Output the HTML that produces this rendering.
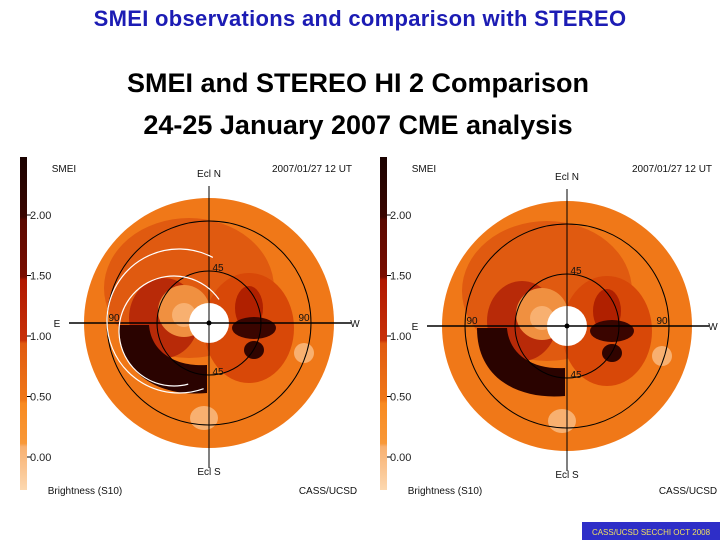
<!DOCTYPE html>
<html><head><meta charset="utf-8"><style>
body{margin:0;width:720px;height:540px;background:#fff;overflow:hidden;font-family:"Liberation Sans",sans-serif}
.t{position:absolute;left:0;width:720px;text-align:center;font-weight:bold;color:#000}
</style></head><body>
<div class="t" style="top:6px;font-size:22px;letter-spacing:0.3px;color:#1c1cb4">SMEI observations and comparison with STEREO</div>
<div class="t" style="top:68px;font-size:27px;left:-2px">SMEI and STEREO HI 2 Comparison</div>
<div class="t" style="top:110px;font-size:27px;left:-2px">24-25 January 2007 CME analysis</div>
<svg width="720" height="540" style="position:absolute;left:0;top:0" font-family="Liberation Sans, sans-serif">
<defs>
<linearGradient id="cb" x1="0" y1="0" x2="0" y2="1">
<stop offset="0" stop-color="#1a0200"/><stop offset="0.18" stop-color="#3a0500"/>
<stop offset="0.19" stop-color="#5a0800"/><stop offset="0.36" stop-color="#7a0c00"/>
<stop offset="0.37" stop-color="#b01800"/><stop offset="0.55" stop-color="#c83008"/>
<stop offset="0.56" stop-color="#e05a10"/><stop offset="0.73" stop-color="#f07818"/>
<stop offset="0.74" stop-color="#f88a20"/><stop offset="0.86" stop-color="#f89838"/>
<stop offset="0.87" stop-color="#f8b070"/><stop offset="1" stop-color="#fcd8b0"/>
</linearGradient>
</defs>
<g id="panels"></g>
<rect x="582" y="522" width="138" height="18" fill="#2e2ec8"/>
<text x="651" y="535" font-size="8" fill="#f0e060" text-anchor="middle">CASS/UCSD SECCHI OCT 2008</text>
</svg>
<script>
const ticks=["2.00","1.50","1.00","0.50","0.00"];
const tickVals=[2,1.5,1,0.5,0];
const panels=[{cx:209,cy:323,cbx:20,arcs:true},{cx:567,cy:326,cbx:380,arcs:false}];
const g=document.getElementById('panels');
const NS="http://www.w3.org/2000/svg";
const R=Math.PI/180;
function mk(t,a,p){const e=document.createElementNS(NS,t);for(const k in a)e.setAttribute(k,a[k]);(p||g).appendChild(e);return e;}
function yv(v){return 457-(v/0.5)*60.5;}
function leftArc(cx,cy,r,aTop,aBot){const x0=cx+r*Math.cos(aTop*R),y0=cy+r*Math.sin(aTop*R),x1=cx+r*Math.cos(aBot*R),y1=cy+r*Math.sin(aBot*R);return `M${x0},${y0} A${r},${r} 0 1,0 ${x1},${y1}`;}
panels.forEach((p,i)=>{
 const grp=mk('g',{});
 
 
 const cb=mk('rect',{x:p.cbx,y:157,width:7,height:333,fill:'url(#cb)'},grp);
 
 
 ticks.forEach((t,j)=>{
  const y=yv(tickVals[j]);
  mk('line',{x1:p.cbx+7,y1:y,x2:p.cbx+11,y2:y,stroke:'#000'},grp);
  const tx=mk('text',{x:p.cbx+10,y:y+4,'font-size':11,fill:'#222'},grp);tx.textContent=t;
  
  
 });
 const c=p.cx,d=p.cy;
 const disc=mk('circle',{cx:c,cy:d,r:125,fill:'#f07818'},grp);
 
 
 mk('ellipse',{cx:c-20,cy:d-35,rx:85,ry:70,fill:'#e05a10'},grp);
 mk('ellipse',{cx:c+40,cy:d+5,rx:45,ry:55,fill:'#d84808'},grp);
 mk('ellipse',{cx:c-45,cy:d-5,rx:35,ry:40,fill:'#b82a08'},grp);
 mk('path',{d:`M${c-90},${d+2} C${c-90},${d+55} ${c-45},${d+74} ${c-2},${d+70} L${c-2},${d+42} C${c-35},${d+44} ${c-58},${d+28} ${c-60},${d+2} Z`,fill:'#2a0300'},grp);
 mk('ellipse',{cx:c-25,cy:d-12,rx:26,ry:26,fill:'#f09040'},grp);
 mk('ellipse',{cx:c-25,cy:d-8,rx:12,ry:12,fill:'#f8b070'},grp);
 mk('ellipse',{cx:c+40,cy:d-15,rx:14,ry:22,fill:'#b02000'},grp);
 mk('ellipse',{cx:c+45,cy:d+5,rx:22,ry:11,fill:'#3a0500'},grp);
 mk('ellipse',{cx:c+45,cy:d+27,rx:10,ry:9,fill:'#300400'},grp);
 mk('ellipse',{cx:c-5,cy:d+95,rx:14,ry:12,fill:'#f8b070'},grp);
 mk('ellipse',{cx:c+95,cy:d+30,rx:10,ry:10,fill:'#f8b070'},grp);
 mk('circle',{cx:c,cy:d,r:102,fill:'none',stroke:'#000','stroke-width':1},grp);
 mk('circle',{cx:c,cy:d,r:52,fill:'none',stroke:'#000','stroke-width':1},grp);
 mk('circle',{cx:c,cy:d,r:20,fill:'#fff'},grp);
 mk('line',{x1:c-140,y1:d,x2:c+142,y2:d,stroke:'#000','stroke-width':1.5},grp);
 mk('line',{x1:c,y1:d-137,x2:c,y2:d+145,stroke:'#000','stroke-width':1},grp);
 mk('circle',{cx:c,cy:d,r:2.5,fill:'#000'},grp);
 if(p.arcs){
  mk('path',{d:leftArc(c-30,d-2,72,-62,70),fill:'none',stroke:'#fff','stroke-width':1.2},grp);
  mk('path',{d:leftArc(c-35,d+8,55,-35,75),fill:'none',stroke:'#fff','stroke-width':1.2},grp);
 }
 const labs=[[c-152,d+4,"E"],[c+146,d+4,"W"],[c,d-146,"Ecl N"],[c,d+152,"Ecl S"],[c-95,d-2,"90"],[c+95,d-2,"90"],[c+9,d-52,"45"],[c+9,d+52,"45"],[p.cbx+44,172,"SMEI"],[p.cbx+292,172,"2007/01/27 12 UT"],[p.cbx+65,494,"Brightness (S10)"],[p.cbx+308,494,"CASS/UCSD"]];
 labs.forEach(l=>{const tx=mk('text',{x:l[0],y:l[1],'font-size':10,fill:'#111','text-anchor':'middle'},grp);tx.textContent=l[2];
  
  });
});
</script>
</body></html>
